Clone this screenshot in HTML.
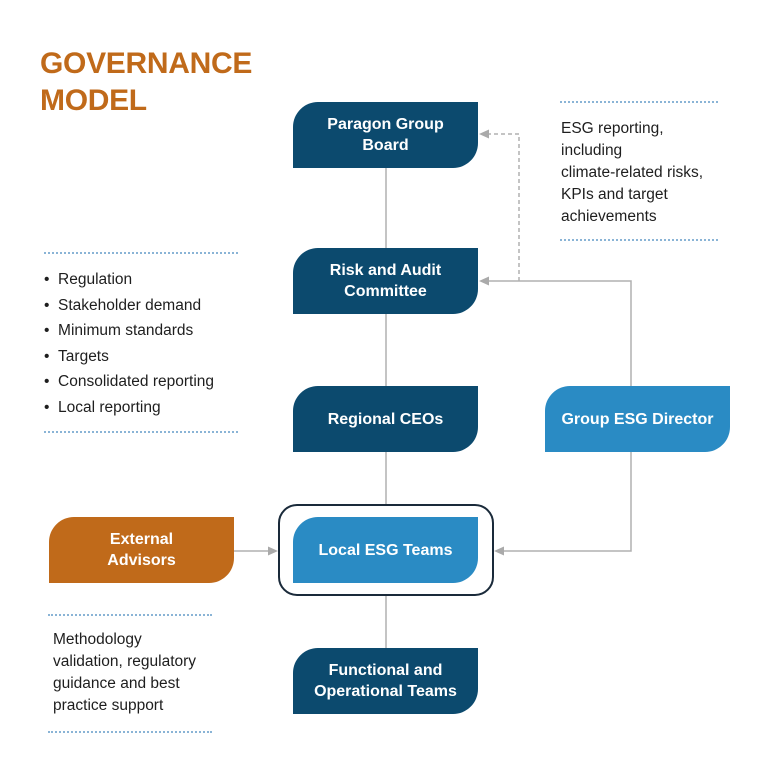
<!DOCTYPE html>
<html><head><style>
body{margin:0;width:768px;height:768px;background:#fff;font-family:"Liberation Sans",sans-serif;position:relative;overflow:hidden}
.t{position:absolute;left:40px;top:45px;color:#c06a1a;font-weight:bold;font-size:30px;line-height:37px;letter-spacing:-0.3px}
.n{position:absolute;width:185px;height:66px;border-radius:25px 0 25px 0;color:#fff;font-weight:bold;font-size:16px;line-height:21px;display:flex;align-items:center;justify-content:center;text-align:center}
.d{background:#0c4a6e}.l{background:#2a8bc4}.o{background:#c06a1a}
.tx{position:absolute;color:#1e1e1e;font-size:15.5px;line-height:22px}
.dl{position:absolute;border-top:2px dotted #8ab4d6;height:0}
</style></head><body>
<div class="t">GOVERNANCE<br>MODEL</div>
<svg width="768" height="768" style="position:absolute;left:0;top:0">
<g stroke="#b0b0b0" stroke-width="1.5" fill="none">
<line x1="386" y1="168" x2="386" y2="648"/>
<path d="M519,281V134H486" stroke-dasharray="4,3"/>
<path d="M631,386V281H486"/>
<path d="M631,452V551H501"/>
<path d="M234,551H271"/>
</g>
<g fill="#aaa">
<path d="M479,134L489,129.5V138.5z"/>
<path d="M479,281L489,276.5V285.5z"/>
<path d="M494,551L504,546.5V555.5z"/>
<path d="M278,551L268,546.5V555.5z"/>
</g>
<rect x="279" y="505" width="214" height="90" rx="18" fill="#fff" stroke="#1a2a3a" stroke-width="2"/>
</svg>
<div class="n d" style="left:293px;top:102px">Paragon Group<br>Board</div>
<div class="n d" style="left:293px;top:248px">Risk and Audit<br>Committee</div>
<div class="n d" style="left:293px;top:386px">Regional CEOs</div>
<div class="n l" style="left:545px;top:386px">Group ESG Director</div>
<div class="n l" style="left:293px;top:517px">Local ESG Teams</div>
<div class="n o" style="left:49px;top:517px">External<br>Advisors</div>
<div class="n d" style="left:293px;top:648px">Functional and<br>Operational Teams</div>
<div class="dl" style="left:560px;top:101px;width:158px"></div>
<div class="tx" style="left:561px;top:118px">ESG reporting,<br>including<br>climate-related risks,<br>KPIs and target<br>achievements</div>
<div class="dl" style="left:560px;top:239px;width:158px"></div>
<div class="dl" style="left:44px;top:252px;width:194px"></div>
<div class="tx" style="left:44px;top:267px;line-height:25.5px">• &nbsp;Regulation<br>• &nbsp;Stakeholder demand<br>• &nbsp;Minimum standards<br>• &nbsp;Targets<br>• &nbsp;Consolidated reporting<br>• &nbsp;Local reporting</div>
<div class="dl" style="left:44px;top:431px;width:194px"></div>
<div class="dl" style="left:48px;top:614px;width:164px"></div>
<div class="tx" style="left:53px;top:629px">Methodology<br>validation, regulatory<br>guidance and best<br>practice support</div>
<div class="dl" style="left:48px;top:731px;width:164px"></div>
</body></html>
